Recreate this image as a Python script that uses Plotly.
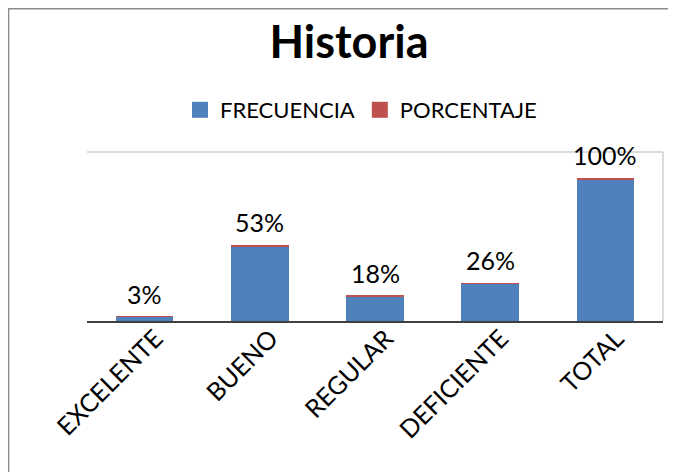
import plotly.graph_objects as go

categorias = ["EXCELENTE", "BUENO", "REGULAR", "DEFICIENTE", "TOTAL"]
frecuencia = [2, 36, 12, 18, 68]
porcentaje = [0.03, 0.53, 0.18, 0.26, 1.00]

AZUL, ROJO = "#4f81bd", "#c0504d"
FONT = "Lato"
# la pagina deja 8px de margen al body -> la figura empieza en (8, 8)
W, H = 668, 464
L, R, T, B = 79, 13, 144, 151
pw, ph = W - L - R, H - T - B

fig = go.Figure()
fig.add_trace(go.Bar(x=categorias, y=frecuencia, name="FRECUENCIA",
                     marker=dict(color=AZUL, line=dict(width=0)),
                     width=0.5, showlegend=False))
fig.add_trace(go.Bar(x=categorias, y=porcentaje, name="PORCENTAJE",
                     marker=dict(color=ROJO, line=dict(width=0)),
                     width=0.5, showlegend=False))

# entradas de leyenda con cuadrados grandes (estilo Excel)
for nombre, col in [("FRECUENCIA", AZUL), ("PORCENTAJE", ROJO)]:
    fig.add_trace(go.Scatter(x=[None], y=[None], mode="markers", name=nombre,
                             marker=dict(symbol="square", size=17, color=col)))

# etiquetas de porcentaje encima de cada barra
for c, f, p in zip(categorias, frecuencia, porcentaje):
    fig.add_annotation(x=c, y=f + p, text=f"{p:.0%}", showarrow=False,
                       yanchor="bottom", yshift=6,
                       font=dict(family=FONT, size=25, color="#000000"))

# marco exterior, linea superior y borde derecho del area de trazado
fig.add_shape(type="rect", xref="paper", yref="paper",
              x0=-L / pw + 0.001, x1=(W - L) / pw + 0.05,
              y0=-B / ph - 0.1, y1=(ph + T) / ph - 0.004,
              line=dict(color="#8c8c8c", width=1.5), layer="below")
fig.add_shape(type="line", xref="paper", yref="paper", x0=0, x1=1, y0=1, y1=1,
              line=dict(color="#d0d0d0", width=1.5))
fig.add_shape(type="line", xref="paper", yref="paper", x0=1, x1=1, y0=0, y1=1,
              line=dict(color="#d0d0d0", width=1.5))

fig.update_layout(
    width=W, height=H,
    barmode="stack",
    paper_bgcolor="white", plot_bgcolor="white",
    margin=dict(l=L, r=R, t=T, b=B),
    title=dict(text="<b>Historia</b>", x=(349 - 8) / W, xanchor="center",
               y=1 - 34 / H, yanchor="middle",
               font=dict(family=FONT, size=45, color="#000000")),
    legend=dict(orientation="h", x=(361 - 8 - L) / pw, xanchor="center",
                y=1 + (T - 102) / ph, yanchor="middle",
                font=dict(family=FONT, size=22, color="#000000"),
                itemwidth=30, traceorder="normal",
                bgcolor="rgba(0,0,0,0)"),
    xaxis=dict(showline=True, linecolor="#404040", linewidth=2,
               tickangle=-45, ticks="", showgrid=False,
               ticklabelstandoff=-9, ticklabelshift=11,
               tickfont=dict(family=FONT, size=25, color="#000000")),
    yaxis=dict(range=[0, 81.5], showticklabels=False, ticks="",
               showgrid=False, zeroline=False, showline=False),
)

fig.write_html("out.html")
